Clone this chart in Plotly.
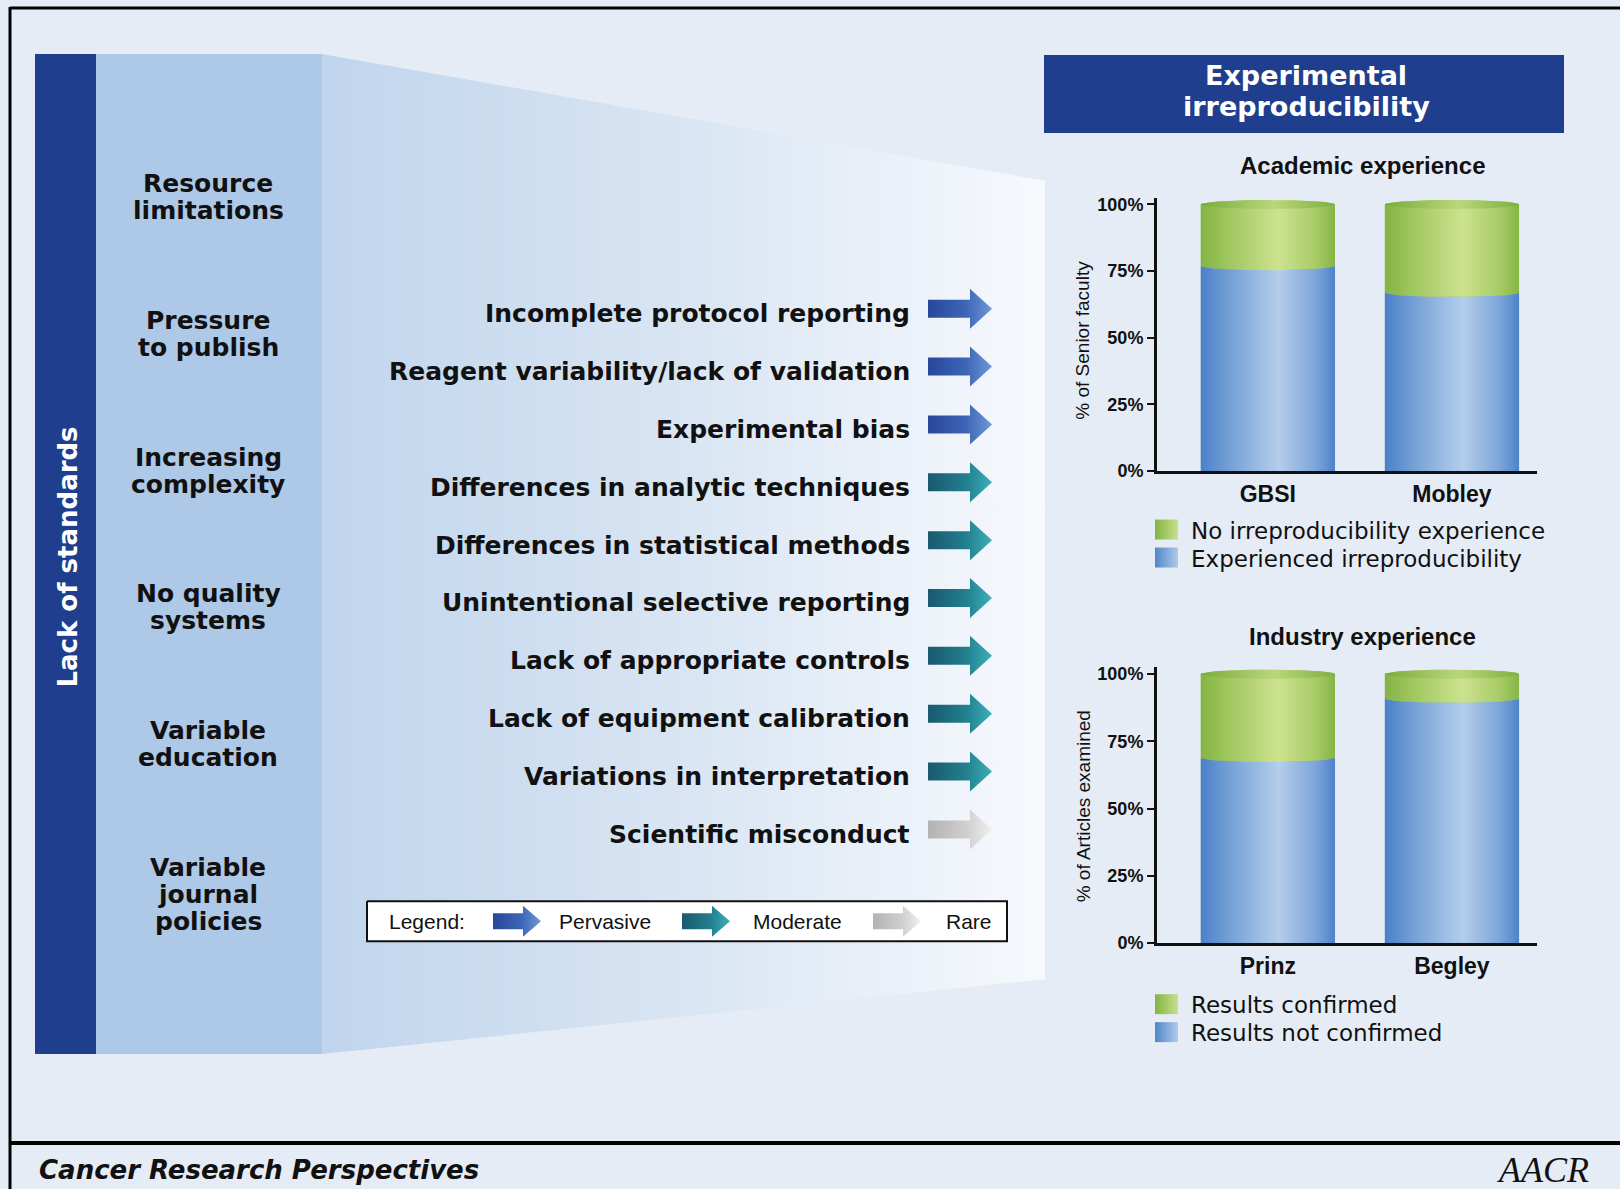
import numpy as np
import plotly.graph_objects as go

W = 1620
H = 1189            # reference pixel space used for every coordinate below
RENDER_SCALE = 0.99  # the page is photographed with a slight vertical squeeze
FIG_H = int(round(H / RENDER_SCALE))

# ---------------- data ----------------
root_causes = [
    ["Resource", "limitations"],
    ["Pressure", "to publish"],
    ["Increasing", "complexity"],
    ["No quality", "systems"],
    ["Variable", "education"],
    ["Variable", "journal", "policies"],
]
factors = [
    "Incomplete protocol reporting",
    "Reagent variability/lack of validation",
    "Experimental bias",
    "Differences in analytic techniques",
    "Differences in statistical methods",
    "Unintentional selective reporting",
    "Lack of appropriate controls",
    "Lack of equipment calibration",
    "Variations in interpretation",
    "Scientific misconduct",
]
factor_levels = ["Pervasive", "Pervasive", "Pervasive", "Moderate", "Moderate",
                 "Moderate", "Moderate", "Moderate", "Moderate", "Rare"]
levels = ["Pervasive", "Moderate", "Rare"]

academic_sources = ["GBSI", "Mobley"]
academic_experienced = [77, 67]
academic_no_experience = [23, 33]
academic_series = ["No irreproducibility experience", "Experienced irreproducibility"]

industry_sources = ["Prinz", "Begley"]
industry_not_confirmed = [69, 91]
industry_confirmed = [31, 9]
industry_series = ["Results confirmed", "Results not confirmed"]

pct_ticks = [0, 25, 50, 75, 100]
pct_labels = ["0%", "25%", "50%", "75%", "100%"]

# ---------------- styles ----------------
PAGE = "#e6ecf5"
NAVY = "#1f3f8e"
LIGHTCOL = "#aec8e7"
BOLD_FONT = "DejaVu Sans"
ARIAL = "Liberation Sans"

arrow_grad = {
    "Pervasive": [[0, "#28479a"], [0.6, "#3d66b7"], [1, "#7099d8"]],
    "Moderate": [[0, "#1a596e"], [0.6, "#22808f"], [1, "#3cb0b9"]],
    "Rare": [[0, "#b2b2b2"], [0.6, "#cfcfcf"], [1, "#efefef"]],
}
blue_grad = [[0, "#4a80c6"], [0.18, "#6e9bd4"], [0.58, "#b4ceeb"], [0.85, "#7ea6da"], [1, "#4c83c8"]]
green_grad = [[0, "#84b443"], [0.18, "#9cc55b"], [0.58, "#cde28f"], [0.85, "#a8cc68"], [1, "#86b545"]]
green_top = [[0, "#7cac3c"], [0.55, "#b9d77a"], [1, "#80af40"]]

fig = go.Figure()


def canvas_poly(xs, ys, colorscale=None, fillcolor=None, line=None):
    kw = dict(x=xs, y=ys, mode="lines", fill="toself",
              line=line if line else dict(width=0, color="rgba(0,0,0,0)"),
              hoverinfo="skip", showlegend=False, xaxis="x", yaxis="y")
    if colorscale:
        kw["fillgradient"] = dict(type="horizontal", colorscale=colorscale)
    else:
        kw["fillcolor"] = fillcolor
    fig.add_trace(go.Scatter(**kw))


def arrow_pts(x0, cy, body, total, bh, hh):
    xb, x1 = x0 + body, x0 + total
    xs = [x0, xb, xb, x1, xb, xb, x0, x0]
    ys = [cy - bh, cy - bh, cy - hh, cy, cy + hh, cy + bh, cy + bh, cy - bh]
    return xs, ys


# ---------------- canvas decorations (pixel coordinates) ----------------
canvas_poly([322, 1045, 1045, 322, 322], [51, 178, 977, 1052, 51],
            colorscale=[[0, "#c0d5ed"], [0.5, "#d9e5f3"], [1, "#f7f9fd"]])

for i, lvl in enumerate(factor_levels):
    cy = 306 + 57.9 * i
    xs, ys = arrow_pts(928, cy, 42, 64, 9, 20)
    canvas_poly(xs, ys, colorscale=arrow_grad[lvl])

canvas_poly([367, 1007, 1007, 367, 367], [899, 899, 939, 939, 899],
            fillcolor="#ffffff", line=dict(width=2, color="#111111"))
legend_arrow_x = [493, 682, 873]
legend_text_x = [557, 751, 944]
for lvl, ax in zip(levels, legend_arrow_x):
    xs, ys = arrow_pts(ax, 919, 30, 48, 8, 15.5)
    canvas_poly(xs, ys, colorscale=arrow_grad[lvl])

sw_blue = [[0, "#4f86c9"], [1, "#b0cbea"]]
sw_green = [[0, "#84b443"], [1, "#c8e08c"]]
for top, cs in [(517, sw_green), (545, sw_blue), (992, sw_green), (1020, sw_blue)]:
    canvas_poly([1155, 1178, 1178, 1155, 1155], [top, top, top + 20, top + 20, top], colorscale=cs)

# ---------------- bar charts ----------------
BW = 0.7295
B = 1.7  # ellipse half-height in % units


def cylinder(xa, ya, idx, low, total):
    c, w = idx, BW / 2
    t = np.linspace(0, np.pi, 40)
    xs = [c - w, c + w, c + w] + list(c + w * np.cos(t)) + [c - w]
    ys = [0, 0, low] + list(low - B * np.sin(t)) + [0]
    fig.add_trace(go.Scatter(x=xs, y=ys, mode="lines", fill="toself", line=dict(width=0),
                             fillgradient=dict(type="horizontal", colorscale=blue_grad),
                             hoverinfo="skip", showlegend=False, xaxis=xa, yaxis=ya))
    tr = t[::-1]
    xs = list(c + w * np.cos(tr)) + list(c + w * np.cos(t))
    ys = list(low - B * np.sin(tr)) + list(total + B * np.sin(t))
    xs.append(xs[0]); ys.append(ys[0])
    fig.add_trace(go.Scatter(x=xs, y=ys, mode="lines", fill="toself", line=dict(width=0),
                             fillgradient=dict(type="horizontal", colorscale=green_grad),
                             hoverinfo="skip", showlegend=False, xaxis=xa, yaxis=ya))
    tt = np.linspace(0, 2 * np.pi, 80)
    fig.add_trace(go.Scatter(x=list(c + w * np.cos(tt)), y=list(total + B * np.sin(tt)),
                             mode="lines", fill="toself", line=dict(width=0),
                             fillgradient=dict(type="horizontal", colorscale=green_top),
                             hoverinfo="skip", showlegend=False, xaxis=xa, yaxis=ya))


for xa, ya, cats, low_vals, high_vals, names in [
    ("x2", "y2", academic_sources, academic_experienced, academic_no_experience, academic_series),
    ("x3", "y3", industry_sources, industry_not_confirmed, industry_confirmed, industry_series),
]:
    xpos = list(range(len(cats)))
    fig.add_trace(go.Bar(x=xpos, y=low_vals, width=BW, name=names[1],
                         marker=dict(color="#7ea6da", line=dict(width=0)),
                         showlegend=False, xaxis=xa, yaxis=ya, hovertext=cats))
    fig.add_trace(go.Bar(x=xpos, y=high_vals, width=BW, name=names[0],
                         marker=dict(color="#a8cc68", line=dict(width=0)),
                         showlegend=False, xaxis=xa, yaxis=ya, hovertext=cats))
    for i in xpos:
        cylinder(xa, ya, i, low_vals[i], low_vals[i] + high_vals[i])

# ---------------- axes ----------------
xd = [1157 / W, 1537 / W]
xr = [-0.602, 1.462]
yr = [0, 102.5]
common_x = dict(domain=xd, range=xr, showline=True, linecolor="#111111", linewidth=3,
                ticks="", showgrid=False, zeroline=False, fixedrange=True,
                tickfont=dict(family=ARIAL, size=23, color="#111111", weight="bold"))
common_y = dict(range=yr, showline=True, linecolor="#111111", linewidth=3, ticks="outside",
                ticklen=7, tickwidth=2, tickcolor="#111111", showgrid=False, zeroline=False,
                fixedrange=True, tickvals=pct_ticks, ticktext=pct_labels,
                tickfont=dict(family=ARIAL, size=18, color="#111111", weight="bold"))

fig.update_layout(
    width=W, height=FIG_H, margin=dict(l=0, r=0, t=0, b=0),
    paper_bgcolor=PAGE, plot_bgcolor="rgba(0,0,0,0)",
    barmode="stack", showlegend=False,
    xaxis=dict(domain=[0, 1], range=[0, W], visible=False, fixedrange=True),
    yaxis=dict(domain=[0, 1], range=[H, 0], visible=False, fixedrange=True),
    xaxis2=dict(anchor="y2", tickvals=[0, 1], ticktext=academic_sources, **common_x),
    yaxis2=dict(anchor="x2", domain=[1 - 468.3 / H, 1 - 195 / H], **common_y),
    xaxis3=dict(anchor="y3", tickvals=[0, 1], ticktext=industry_sources, **common_x),
    yaxis3=dict(anchor="x3", domain=[1 - 940.7 / H, 1 - 665 / H], **common_y),
)

# ---------------- shapes ----------------
shapes = [
    dict(type="rect", x0=35, x1=96, y0=51, y1=1052, fillcolor=NAVY, line=dict(width=0), layer="below"),
    dict(type="rect", x0=96, x1=322, y0=51, y1=1052, fillcolor=LIGHTCOL, line=dict(width=0), layer="below"),
    dict(type="rect", x0=1044, x1=1564, y0=52, y1=130, fillcolor=NAVY, line=dict(width=0), layer="below"),
    dict(type="line", x0=10, x1=W, y0=5, y1=5, line=dict(color="#000", width=3), layer="above"),
    dict(type="line", x0=10, x1=10, y0=4, y1=H, line=dict(color="#000", width=3), layer="above"),
    dict(type="line", x0=10, x1=W, y0=1141, y1=1141, line=dict(color="#000", width=4), layer="above"),
]
for s in shapes:
    s.update(xref="x", yref="y")
fig.update_layout(shapes=shapes)

# ---------------- text ----------------
ann = []


def txt(x, y, s, size, family=BOLD_FONT, color="#111111", weight="normal", xanchor="center",
        angle=0, style="normal"):
    ann.append(dict(x=x, y=y, xref="x", yref="y", text=s, showarrow=False, xanchor=xanchor,
                    yanchor="middle", textangle=angle,
                    font=dict(family=family, size=size, color=color, weight=weight, style=style)))


for i, lines in enumerate(root_causes):
    for j, line in enumerate(lines):
        txt(208, 181 + 136.8 * i + 27 * j, line, 25, weight="bold")
txt(68, 555, "Lack of standards", 26, color="#ffffff", weight="bold", angle=-90)

for i, f in enumerate(factors):
    txt(912, 311 + 57.9 * i, f, 25, weight="bold", xanchor="right")

txt(387, 919, "Legend:", 21, family=ARIAL, xanchor="left")
for lvl, tx in zip(levels, legend_text_x):
    txt(tx, 919, lvl, 21, family=ARIAL, xanchor="left")

txt(1306, 73, "Experimental", 27, color="#ffffff", weight="bold")
txt(1306, 104, "irreproducibility", 27, color="#ffffff", weight="bold")

txt(1362, 163, "Academic experience", 24, family=ARIAL, weight="bold")
txt(1362, 634, "Industry experience", 24, family=ARIAL, weight="bold")

txt(1083, 338, "% of Senior faculty", 19, family=ARIAL, angle=-90)
txt(1083, 804, "% of Articles examined", 19, family=ARIAL, angle=-90)

txt(1189, 528, academic_series[0], 23, xanchor="left")
txt(1189, 556, academic_series[1], 23, xanchor="left")
txt(1189, 1003, industry_series[0], 23, xanchor="left")
txt(1189, 1031, industry_series[1], 23, xanchor="left")

txt(37, 1168, "Cancer Research Perspectives", 26, weight="bold", style="italic", xanchor="left")
txt(1543, 1168, "AACR", 36, family="Liberation Serif", style="italic")

fig.update_layout(annotations=ann)

fig.write_html(
    "out.html",
    config={"displayModeBar": False},
    post_script="document.body.style.margin='0';document.body.style.background='%s';"
                "document.documentElement.style.background='%s';" % (PAGE, PAGE),
)
